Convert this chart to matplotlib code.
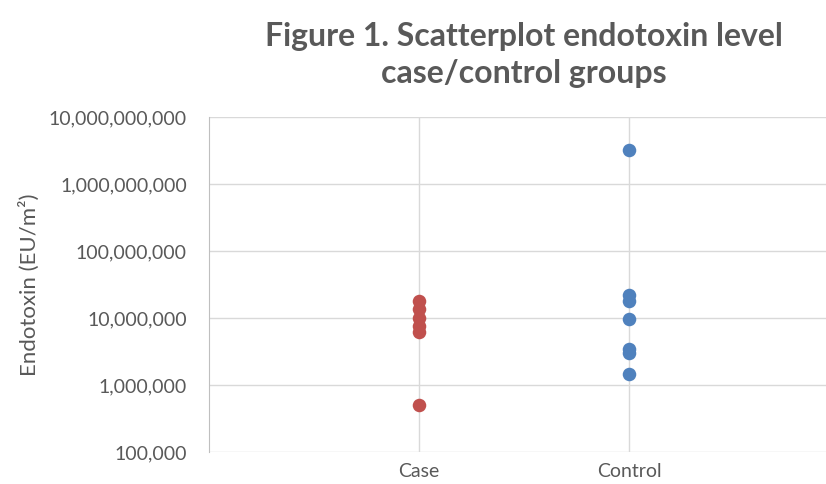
import matplotlib.pyplot as plt
from matplotlib.ticker import FuncFormatter

plt.rcParams['font.family'] = ['Lato', 'DejaVu Sans']

groups = ['Case', 'Control']
case_vals = [1.8e7, 1.36e7, 1.0e7, 7.6e6, 6.2e6, 5.0e5]
control_vals = [3.2e9, 2.2e7, 1.8e7, 9.7e6, 3.4e6, 3.0e6, 1.46e6]

grey = '#595959'
grid = '#d9d9d9'

fig = plt.figure(figsize=(8.26, 4.84), dpi=100)
ax = fig.add_axes([209 / 826, 32 / 484, 630 / 826, 335 / 484])

ax.scatter([1] * len(case_vals), case_vals, s=95, color='#C0504D', zorder=3, linewidths=0)
ax.scatter([2] * len(control_vals), control_vals, s=95, color='#4F81BD', zorder=3, linewidths=0)

ax.set_yscale('log')
ax.set_ylim(1e5, 1e10)
ax.set_xlim(0, 3)
ax.set_xticks([1, 2])
ax.set_xticklabels(groups)
ax.set_yticks([10 ** k for k in range(5, 11)])
ax.yaxis.set_major_formatter(FuncFormatter(lambda v, p: f'{v:,.0f}'))
ax.minorticks_off()
ax.grid(True, color=grid, linewidth=1)
ax.set_axisbelow(True)
ax.tick_params(length=0, colors=grey, labelsize=14)
ax.tick_params(axis='y', pad=16)
ax.tick_params(axis='x', pad=8)
for s in ['top', 'right', 'bottom']:
    ax.spines[s].set_visible(False)
ax.spines['left'].set_color('#bfbfbf')

ax.set_ylabel('Endotoxin (EU/m²)', color=grey, fontsize=16, labelpad=6)
fig.text(524 / 826, 1 - 55 / 484, 'Figure 1. Scatterplot endotoxin level\ncase/control groups',
         ha='center', va='center', fontsize=23, fontweight='bold', color=grey, linespacing=1.3)

fig.savefig('out.png', dpi=100)
